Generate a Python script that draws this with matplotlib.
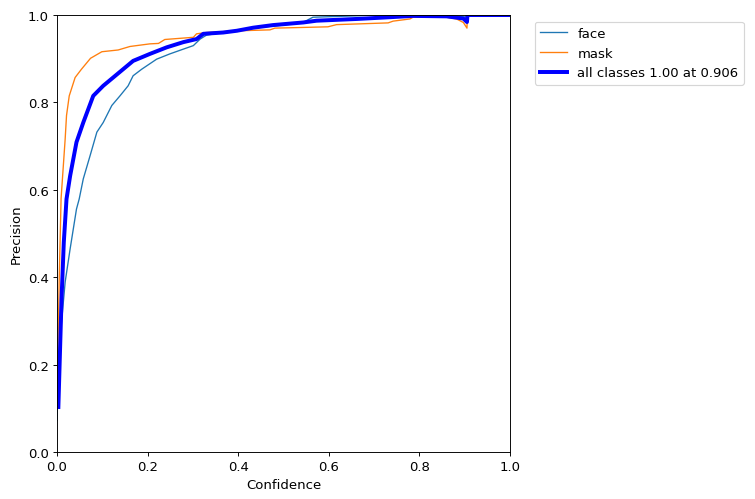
import matplotlib
matplotlib.use("Agg")
import matplotlib.pyplot as plt

plt.rcParams["font.size"] = 11.4

# precision-confidence curves, values
face_conf = [0.0, 0.005, 0.010, 0.018, 0.029, 0.043, 0.049, 0.058, 0.073, 0.088, 0.102,
             0.121, 0.139, 0.157, 0.168, 0.187, 0.22, 0.249, 0.279, 0.301, 0.316, 0.33,
             0.367, 0.40, 0.45, 0.50, 0.543, 0.565, 0.658, 0.70, 0.80, 0.86, 0.90, 0.905,
             0.906, 1.0]
face_prec = [0.072, 0.236, 0.297, 0.389, 0.465, 0.556, 0.579, 0.625, 0.678, 0.732, 0.754,
             0.793, 0.815, 0.838, 0.861, 0.876, 0.899, 0.911, 0.922, 0.930, 0.945, 0.954,
             0.960, 0.965, 0.972, 0.977, 0.983, 0.995, 0.998, 1.0, 0.999, 0.998, 0.996, 0.995,
             1.0, 1.0]

mask_conf = [0.0, 0.005, 0.009, 0.018, 0.021, 0.027, 0.040, 0.054, 0.074, 0.099, 0.135,
             0.161, 0.205, 0.224, 0.238, 0.301, 0.308, 0.33, 0.404, 0.47, 0.481, 0.598,
             0.617, 0.731, 0.742, 0.779, 0.786, 0.86, 0.882, 0.897, 0.905, 0.906, 1.0]
mask_prec = [0.12, 0.40, 0.58, 0.716, 0.77, 0.815, 0.857, 0.876, 0.901, 0.916, 0.920,
             0.928, 0.934, 0.935, 0.944, 0.949, 0.957, 0.960, 0.964, 0.966, 0.970, 0.973,
             0.978, 0.982, 0.986, 0.991, 0.995, 0.995, 0.991, 0.983, 0.970, 1.0, 1.0]

all_conf = [0.003, 0.010, 0.015, 0.021, 0.029, 0.043, 0.058, 0.080, 0.102, 0.124, 0.146,
            0.168, 0.205, 0.242, 0.279, 0.308, 0.323, 0.367, 0.397, 0.433, 0.477, 0.544,
            0.573, 0.662, 0.735, 0.786, 0.86, 0.897, 0.905, 0.906, 1.0]
all_prec = [0.103, 0.35, 0.48, 0.579, 0.632, 0.709, 0.754, 0.815, 0.838, 0.857, 0.876,
            0.895, 0.911, 0.926, 0.938, 0.945, 0.957, 0.960, 0.964, 0.971, 0.977, 0.983,
            0.987, 0.991, 0.995, 0.998, 0.997, 0.992, 0.984, 1.0, 1.0]

fig = plt.figure(figsize=(9, 5.96), dpi=755 / 9)
ax = fig.add_axes([0.0755, 0.094, 0.6, 0.874])

ax.plot(face_conf, face_prec, linewidth=1.15, label="face")
ax.plot(mask_conf, mask_prec, linewidth=1.15, label="mask")
ax.plot(all_conf, all_prec, linewidth=3.4, color="blue", label="all classes 1.00 at 0.906")

ax.set_xlabel("Confidence")
ax.set_ylabel("Precision")
ax.set_xlim(0, 1)
ax.set_ylim(0, 1)
ax.legend(bbox_to_anchor=(1.04, 1), loc="upper left")

fig.savefig("out.png", dpi=755 / 9)
